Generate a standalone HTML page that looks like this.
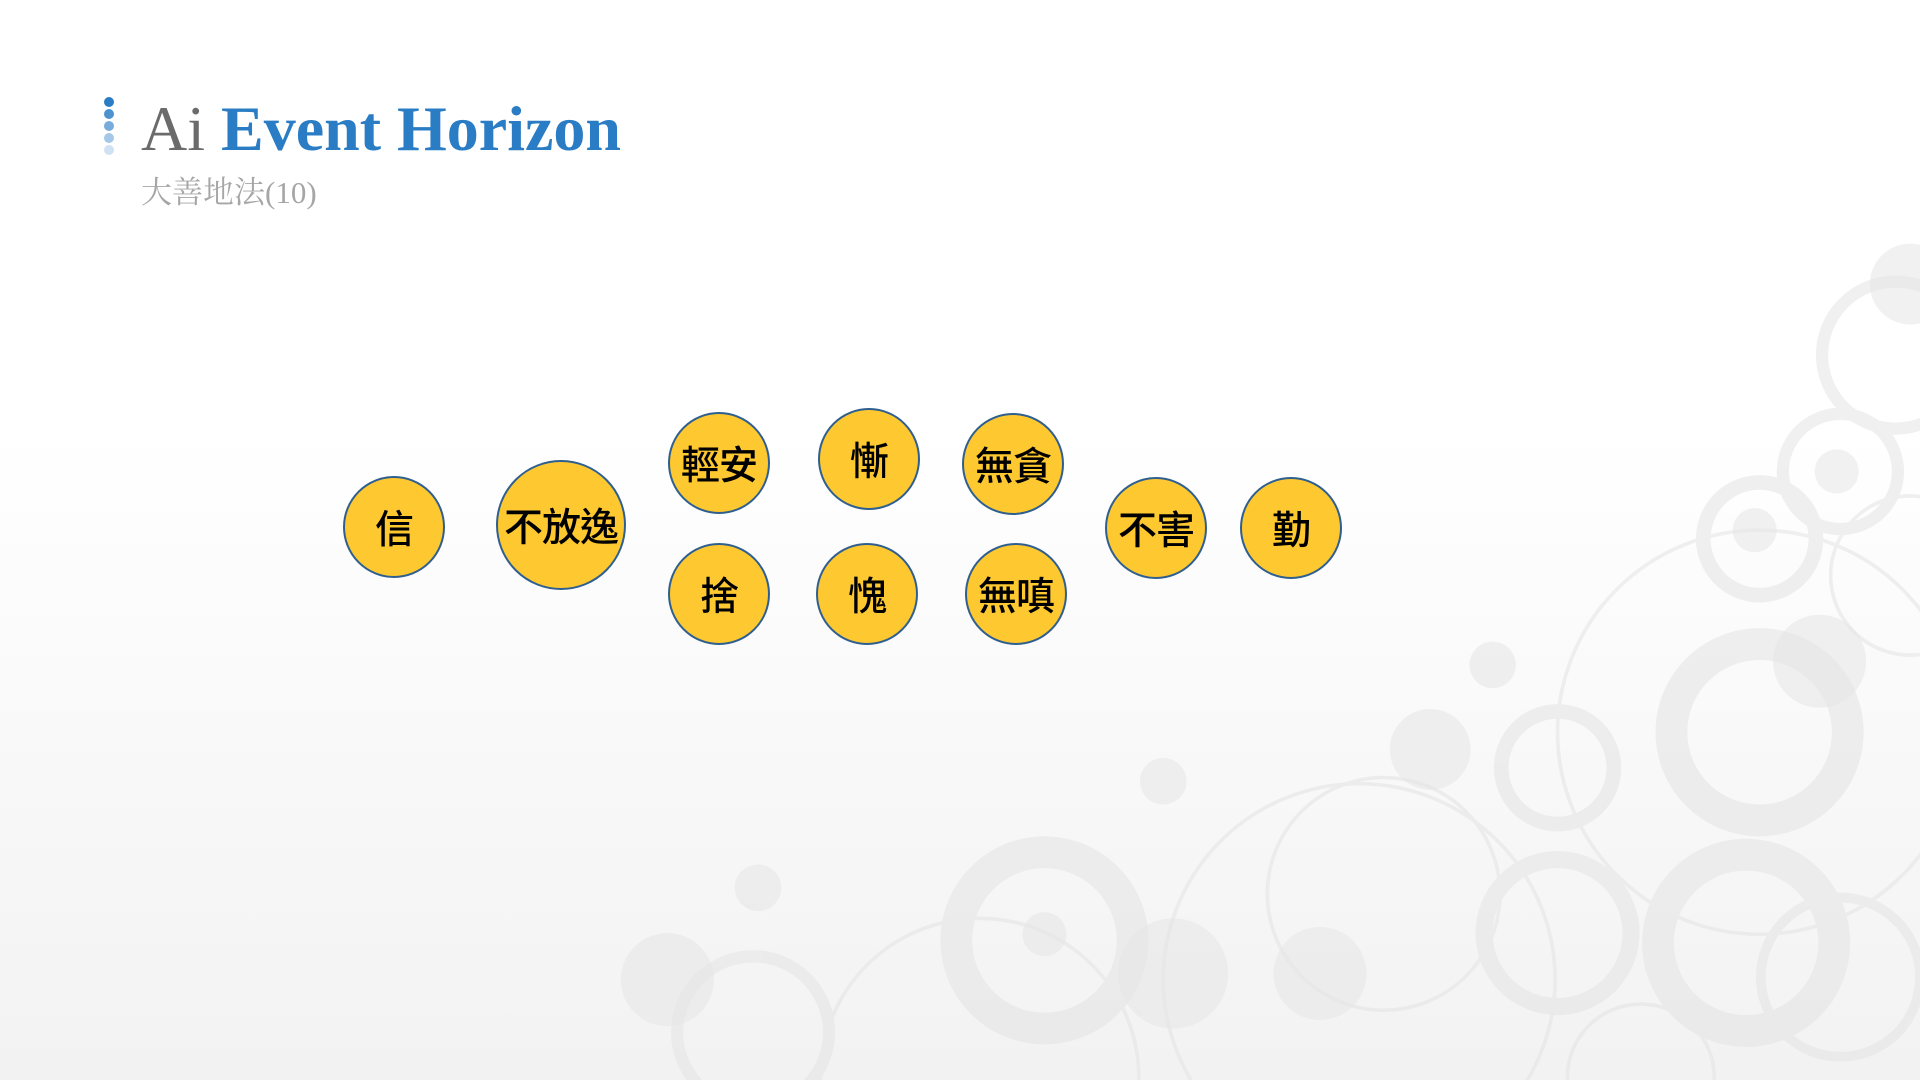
<!DOCTYPE html>
<html><head><meta charset="utf-8"><style>
html,body{margin:0;padding:0;width:1920px;height:1080px;overflow:hidden}
body{position:relative;background:linear-gradient(#ffffff 0%,#ffffff 40%,#f2f2f2 100%);font-family:"Liberation Serif","Noto Serif CJK SC",serif}
#deco{position:absolute;left:0;top:0;display:block}
.title{position:absolute;left:141px;top:97px;font-size:64px;white-space:nowrap;line-height:1}
.title .ai{color:#6b6b6b}
.title .eh{color:#2a7dc4;font-weight:bold}
.sub{position:absolute;left:141px;top:174px;font-size:31px;color:#a6a6a6;font-family:"Liberation Serif","Noto Serif CJK TC",serif;line-height:1.2}
.dot{position:absolute;left:104px;width:10px;height:10px;border-radius:50%}
.node{position:absolute;border-radius:50%;background:#fdc830;border:2px solid #2f5f8f;box-sizing:border-box;display:flex;align-items:center;justify-content:center;font-family:"Noto Sans CJK TC","WenQuanYi Zen Hei",sans-serif;font-size:39px;font-weight:500;color:#000;letter-spacing:-1px}
</style></head><body>
<svg id="deco" width="1920" height="1080" viewBox="0 0 1568 882">
<g fill="none" stroke="#e4e4e4" opacity="0.55">
<circle cx="853" cy="768" r="72" stroke-width="26"/>
<circle cx="1437" cy="598" r="72" stroke-width="26"/>
<circle cx="1426" cy="770" r="72" stroke-width="26"/>
<circle cx="615" cy="843" r="62" stroke-width="10"/>
<circle cx="1272" cy="627" r="46" stroke-width="12"/>
<circle cx="1272" cy="762" r="60" stroke-width="14"/>
<circle cx="1437" cy="440" r="46" stroke-width="12"/>
<circle cx="1503" cy="385" r="47" stroke-width="10"/>
<circle cx="1548" cy="290" r="60" stroke-width="10"/>
<circle cx="1503" cy="798" r="65" stroke-width="8"/>
<circle cx="1437" cy="598" r="165" stroke-width="3"/>
<circle cx="1130" cy="730" r="95" stroke-width="3"/>
<circle cx="1110" cy="800" r="160" stroke-width="3"/>
<circle cx="800" cy="880" r="130" stroke-width="3"/>
<circle cx="1340" cy="880" r="60" stroke-width="3"/>
<circle cx="1560" cy="470" r="65" stroke-width="3"/>
</g>
<g fill="#e6e6e6" opacity="0.55">
<circle cx="1219" cy="543" r="19"/><circle cx="950" cy="638" r="19"/><circle cx="619" cy="725" r="19"/>
<circle cx="1168" cy="612" r="33"/><circle cx="1078" cy="795" r="38"/><circle cx="958" cy="795" r="45"/>
<circle cx="545" cy="800" r="38"/><circle cx="1486" cy="540" r="38"/><circle cx="1500" cy="385" r="18"/>
<circle cx="1433" cy="433" r="18"/><circle cx="853" cy="763" r="18"/><circle cx="1560" cy="232" r="33"/>
</g>
</svg>
<div class="dot" style="top:97px;background:#2a7dc4"></div>
<div class="dot" style="top:109px;background:#4c92cf"></div>
<div class="dot" style="top:121px;background:#78acdb"></div>
<div class="dot" style="top:133px;background:#a5c8e8"></div>
<div class="dot" style="top:145px;background:#cfe1f2"></div>
<div class="title"><span class="ai">Ai </span><span class="eh">Event Horizon</span></div>
<div class="sub">大善地法(10)</div>
<div id="nodes"></div>
<script>
const labels=["信","不放逸","輕安","捨","慚","愧","無貪","無嗔","不害","勤"];
const cx=[394,561,719,719,869,867,1013,1016,1156,1291];
const cy=[527,525,463,594,459,594,464,594,528,528];
const rr=[51,65,51,51,51,51,51,51,51,51];
const wrap=document.getElementById('nodes');
labels.forEach((t,i)=>{
  const d=document.createElement('div');
  d.className='node';
  
  
  d.style.left=(cx[i]-rr[i])+'px';d.style.top=(cy[i]-rr[i])+'px';
  d.style.width=d.style.height=(rr[i]*2)+'px';
  d.textContent=t;
  wrap.appendChild(d);
});
</script>
</body></html>
